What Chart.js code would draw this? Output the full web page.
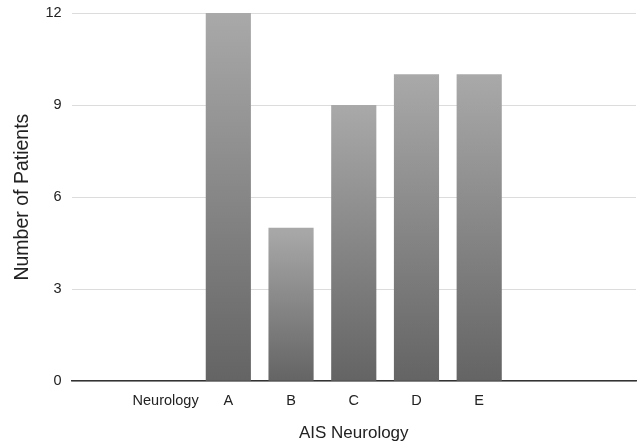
<!DOCTYPE html>
<html>
<head>
<meta charset="utf-8">
<script src="https://cdn.jsdelivr.net/npm/chart.js@4"></script>
<style>
  html, body { margin: 0; padding: 0; background: #fff; }
  #wrap { width: 641px; height: 445px; }
</style>
</head>
<body>
<div id="wrap"><canvas id="myChart" width="641" height="445"></canvas></div>
<script>
// categories along the x axis (blank slots are empty columns in the original)
const categories = ["", "Neurology", "A", "B", "C", "D", "E", "", ""];
// number of patients per category
const patients = [null, null, 12, 5, 9, 10, 10, null, null];
const yTicks = [0, 3, 6, 9, 12];

// per-bar vertical gradient: light at the top, dark at the base
function barFill(ctx) {
  const chart = ctx.chart;
  const y = chart.scales.y;
  if (!y || ctx.parsed == null || ctx.parsed.y == null) return "#888";
  const top = y.getPixelForValue(ctx.parsed.y);
  const base = y.getPixelForValue(0);
  if (!isFinite(top) || !isFinite(base) || top === base) return "#888";
  const g = chart.ctx.createLinearGradient(0, top, 0, base);
  g.addColorStop(0, "#a9a9a9");
  g.addColorStop(1, "#646464");
  return g;
}

const config = {
  type: "bar",
  data: {
    labels: categories,
    datasets: [
      {
        data: patients,
        backgroundColor: barFill,
        borderWidth: 0,
        categoryPercentage: 1,
        barPercentage: 0.72,
      },
    ],
  },
  options: {
    responsive: false,
    animation: false,
    layout: { padding: { top: 13, right: 5, left: 11, bottom: 1 } },
    plugins: {
      legend: { display: false },
      tooltip: { enabled: false },
    },
    scales: {
      x: {
        grid: { display: false, drawTicks: false },
        border: { display: true, color: "#333", width: 1.5 },
        ticks: {
          color: "#222",
          font: { family: "Liberation Sans", size: 14.5 },
          padding: 11,
          maxRotation: 0,
          autoSkip: false,
        },
        title: {
          display: true,
          text: "AIS Neurology",
          color: "#222",
          font: { family: "Liberation Sans", size: 17 },
          padding: { top: 3, bottom: 0 },
        },
      },
      y: {
        min: 0,
        max: 12,
        afterBuildTicks: (axis) => {
          axis.ticks = yTicks.map((v) => ({ value: v }));
        },
        // tick gap via an invisible tick mark, so the top label adds less space
        grid: {
          color: "#dcdcdc",
          lineWidth: 1,
          drawTicks: true,
          tickLength: 10,
          tickColor: "rgba(0,0,0,0)",
        },
        border: { display: false },
        ticks: {
          color: "#222",
          font: { family: "Liberation Sans", size: 14.5 },
          padding: 0,
        },
        title: {
          display: true,
          text: "Number of Patients",
          color: "#222",
          font: { family: "Liberation Sans", size: 19.5 },
          padding: { top: 0, bottom: 11 },
        },
      },
    },
  },
};

const myChart = new Chart(document.getElementById("myChart"), config);
</script>
</body>
</html>
